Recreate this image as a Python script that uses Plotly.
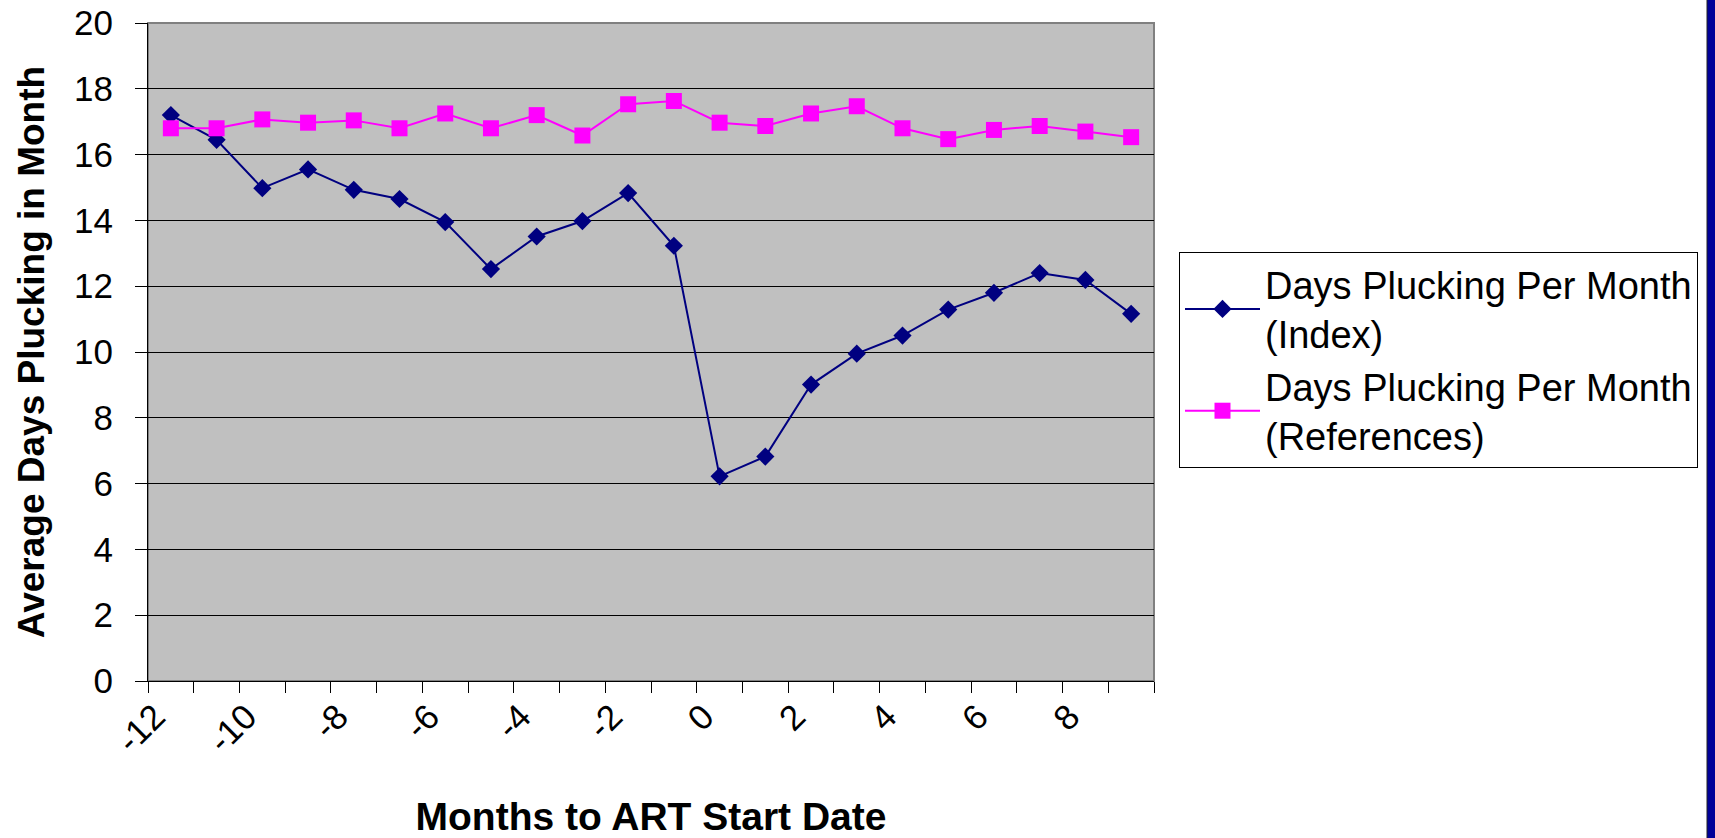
import plotly.graph_objects as go

months = list(range(-12, 10))
index_vals = [17.2, 16.45, 14.98, 15.55, 14.93, 14.65, 13.95, 12.52, 13.51, 13.98, 14.83,
              13.23, 6.22, 6.82, 9.01, 9.95, 10.5, 11.29, 11.8, 12.4, 12.19, 11.16]
ref_vals = [16.8, 16.8, 17.07, 16.97, 17.04, 16.8, 17.25, 16.8, 17.2, 16.58, 17.53,
            17.63, 16.97, 16.87, 17.25, 17.47, 16.8, 16.47, 16.75, 16.87, 16.7, 16.53]
label_months = months[::2]
label_text = [str(m) for m in label_months]
y_ticks = list(range(0, 21, 2))

FONT = "Liberation Sans, Arial, sans-serif"

fig = go.Figure()
fig.add_trace(go.Scatter(
    x=months, y=index_vals, mode="lines+markers",
    name="Days Plucking Per Month<br>(Index)",
    line=dict(color="#000080", width=2),
    marker=dict(symbol="diamond", size=14, color="#000080"),
))
fig.add_trace(go.Scatter(
    x=months, y=ref_vals, mode="lines+markers",
    name="Days Plucking Per Month<br>(References)",
    line=dict(color="#FF00FF", width=2),
    marker=dict(symbol="square", size=16, color="#FF00FF"),
))

W, H = 1715, 838
L, R, T, B = 148, 561, 23, 157
pw = W - L - R
ph = H - T - B

fig.update_layout(
    width=W, height=H,
    margin=dict(l=L, r=R, t=T, b=B, autoexpand=False),
    paper_bgcolor="white",
    plot_bgcolor="#C0C0C0",
    font=dict(family=FONT, size=36, color="black"),
    showlegend=True,
    legend=dict(
        x=(1179 - L) / pw, y=(H - B - 252) / ph, xanchor="left", yanchor="top",
        bgcolor="white", bordercolor="black", borderwidth=1,
        font=dict(family=FONT, size=38, color="black"),
        itemwidth=75, tracegroupgap=0,
    ),
    xaxis=dict(
        range=[months[0] - 0.5, months[-1] + 0.5],
        tickmode="array",
        tickvals=[m - 0.5 + 0.15 for m in label_months],
        ticktext=label_text,
        tickangle=-45,
        ticks="",
        showgrid=False, zeroline=False,
        showline=True, linecolor="black", linewidth=1,
        tickfont=dict(family=FONT, size=35),
        ticklabeloverflow="allow",
        minor=dict(tickmode="linear", tick0=months[0] - 0.5, dtick=1,
                   ticks="outside", ticklen=11, tickcolor="black", tickwidth=1,
                   showgrid=False),
        title=dict(text="Months to ART Start Date",
                   font=dict(family=FONT, size=39, weight="bold"), standoff=56),
        fixedrange=True,
    ),
    yaxis=dict(
        range=[0, 20],
        tickmode="array", tickvals=y_ticks,
        ticks="outside", ticklen=12, tickcolor="black", tickwidth=1,
        showgrid=True, gridcolor="black", gridwidth=1,
        zeroline=False,
        showline=True, linecolor="black", linewidth=1,
        tickfont=dict(family=FONT, size=35),
        ticklabelstandoff=15,
        ticklabeloverflow="allow",
        title=dict(text="Average Days Plucking in Month",
                   font=dict(family=FONT, size=37, weight="bold"), standoff=18),
        fixedrange=True,
    ),
    shapes=[
        dict(type="rect", xref="paper", yref="paper", x0=0, x1=1, y0=0, y1=1,
             line=dict(color="#808080", width=2), layer="below"),
        dict(type="rect", xref="paper", yref="paper",
             x0=(1707 - L) / pw, x1=(1716 - L) / pw,
             y0=-(B + 2) / ph, y1=(ph + T + 2) / ph,
             fillcolor="#000099", line=dict(color="#222222", width=1)),
    ],
)

fig.write_html(
    "out.html",
    config={"displayModeBar": False},
    post_script="document.body.style.margin='0';document.body.style.overflow='hidden';",
)
